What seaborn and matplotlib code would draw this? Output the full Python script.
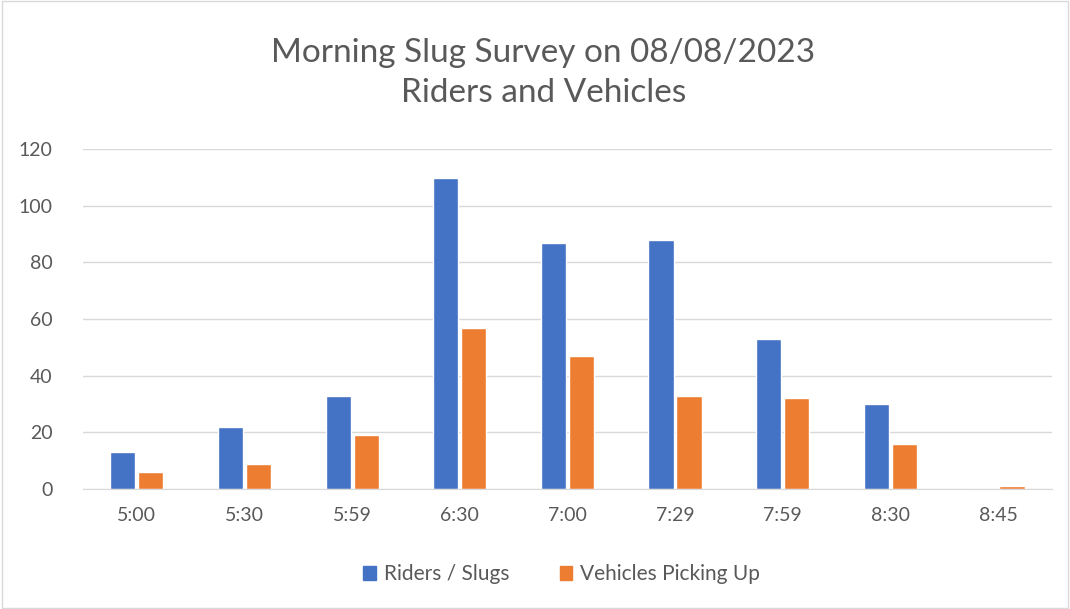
import pandas as pd
import matplotlib.pyplot as plt
import seaborn as sns

# Chart data
times = ["5:00", "5:30", "5:59", "6:30", "7:00", "7:29", "7:59", "8:30", "8:45"]
riders = [13, 22, 33, 110, 87, 88, 53, 30, 0]
vehicles = [6, 9, 19, 57, 47, 33, 32, 16, 1]
series_names = ["Riders / Slugs", "Vehicles Picking Up"]

df = pd.DataFrame({
    "time": times * 2,
    "count": riders + vehicles,
    "series": [series_names[0]] * len(times) + [series_names[1]] * len(times),
})

sns.set_style("white")
plt.rcParams["font.family"] = ["Lato", "DejaVu Sans"]
text_gray = "#595959"

fig = plt.figure(figsize=(10.7, 6.09), dpi=100)
ax = fig.add_axes([0.0776, 0.197, 0.9054, 0.558])

sns.barplot(data=df, x="time", y="count", hue="series", order=times,
            hue_order=series_names, palette=["#4472C4", "#ED7D31"],
            width=0.52, gap=0.1, saturation=1, legend=False, ax=ax)

ax.set_ylim(0, 120)
ax.set_yticks(range(0, 121, 20))
ax.set_xlim(-0.5, len(times) - 0.5)
ax.yaxis.grid(True, color="#D9D9D9", linewidth=1)
ax.set_axisbelow(True)
for s in ["top", "right", "left"]:
    ax.spines[s].set_visible(False)
ax.spines["bottom"].set_color("#D9D9D9")
ax.tick_params(axis="both", colors=text_gray, labelsize=14, length=0)
ax.tick_params(axis="x", pad=13)
ax.tick_params(axis="y", pad=22)
ax.set_xlabel("")
ax.set_ylabel("")

fig.suptitle("Morning Slug Survey on 08/08/2023\nRiders and Vehicles",
             x=0.508, y=0.88, va="center", fontsize=24, color=text_gray, linespacing=1.45)

handles = [plt.Rectangle((0, 0), 1, 1, color=c) for c in ["#4472C4", "#ED7D31"]]
fig.legend(handles, series_names, loc="center", bbox_to_anchor=(0.525, 0.057),
           ncol=2, frameon=False, fontsize=15, labelcolor=text_gray,
           handlelength=0.6, handleheight=0.6, handletextpad=0.4, columnspacing=2.4)

# light outer border like the original chart frame
fig.patches.append(plt.Rectangle((0.002, 0.002), 0.996, 0.996, transform=fig.transFigure,
                                 fill=False, edgecolor="#D9D9D9", linewidth=1))

fig.savefig("out.png", dpi=100)
